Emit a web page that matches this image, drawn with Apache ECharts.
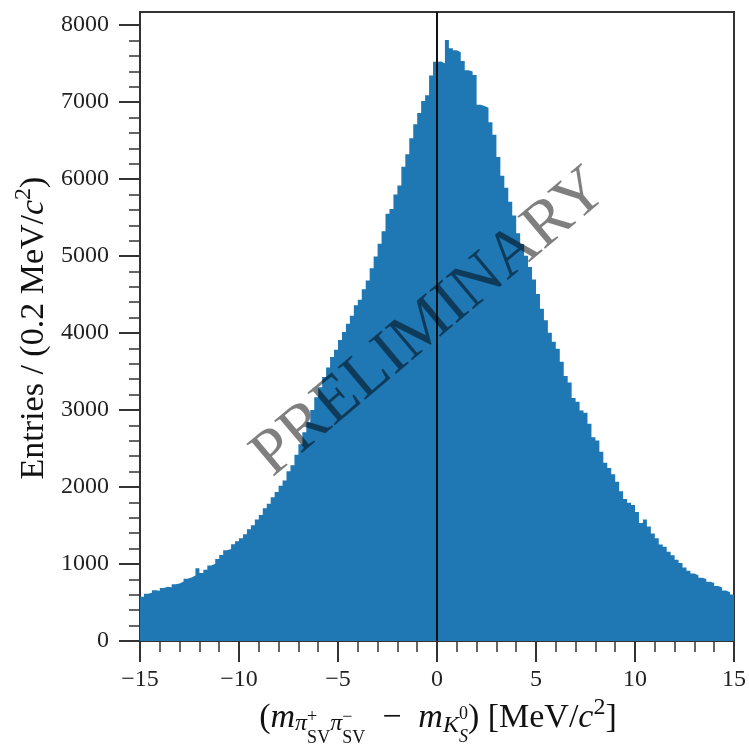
<!DOCTYPE html>
<html>
<head>
<meta charset="utf-8">
<script src="https://cdn.jsdelivr.net/npm/echarts/dist/echarts.min.js"></script>
<style>html,body{margin:0;padding:0;background:#fff}#c{width:749px;height:747px}</style>
</head>
<body>
<div id="c"></div>
<script>
// Histogram: 150 bins of 0.2 MeV/c^2 from -15 to 15
const binMin = -15;
const binWidth = 0.2;
const binCounts = [
  575, 615, 628, 660, 652,
  688, 705, 698, 737, 748,
  772, 808, 826, 851, 946,
  884, 925, 981, 1004, 1066,
  1118, 1180, 1196, 1258, 1297,
  1335, 1386, 1452, 1505, 1578,
  1636, 1724, 1783, 1868, 1935,
  2018, 2086, 2205, 2283, 2418,
  2556, 2712, 2840, 3002, 3165,
  3296, 3430, 3552, 3690, 3782,
  3910, 4012, 4121, 4225, 4362,
  4433, 4570, 4684, 4842, 4995,
  5160, 5322, 5548, 5612, 5801,
  5915, 6160, 6322, 6530, 6712,
  6858, 7015, 7090, 7345, 7525,
  7528, 7505, 7805, 7698, 7672,
  7648, 7535, 7415, 7398, 7352,
  6965, 6948, 6925, 6738, 6575,
  6285, 6042, 5887, 5705, 5526,
  5296, 5158, 5004, 4858, 4695,
  4508, 4314, 4166, 4003, 3888,
  3796, 3628, 3442, 3356, 3155,
  3108, 2994, 2966, 2822, 2646,
  2604, 2458, 2315, 2246, 2165,
  2068, 1945, 1846, 1795, 1766,
  1676, 1534, 1578, 1486, 1395,
  1336, 1255, 1224, 1158, 1114,
  1056, 1014, 955, 914, 876,
  853, 821, 804, 771, 754,
  716, 694, 655, 634, 603
];
const xTicks = [-15, -10, -5, 0, 5, 10, 15];
const yTicks = [0, 1000, 2000, 3000, 4000, 5000, 6000, 7000, 8000];
const xRange = [-15, 15];
const yRange = [0, 8170];
const refLineX = 0;
const watermarkText = 'PRELIMINARY';

const FONT = '"Liberation Serif", "Times New Roman", serif';
const S = 34, S1 = 24, S2 = 18;

function layout(pieces) {
  const ctx = document.createElement('canvas').getContext('2d');
  const meas = p => { ctx.font = (p.it ? 'italic ' : '') + p.size + 'px ' + FONT; return ctx.measureText(p.t).width; };
  let x = 0; const items = [];
  for (const p of pieces) {
    const group = Array.isArray(p) ? p : [p];
    let w = 0;
    for (const q of group) { items.push(Object.assign({}, q, {x})); w = Math.max(w, meas(q)); }
    x += w;
  }
  return {items, width: x};
}
function toGraphic(items, x0, y0) {
  return items.map(it => ({
    type: 'text', x: x0 + it.x, y: y0 + (it.dy || 0) - 0.3 * it.size, z: 50,
    style: {text: it.t, fontFamily: FONT, fontSize: it.size, fontStyle: it.it ? 'italic' : 'normal',
            fill: '#111', align: 'left', verticalAlign: 'middle'}
  }));
}

const xTitle = layout([
  {t: '(', size: S}, {t: 'm', size: S, it: true},
  {t: 'π', size: S1, it: true, dy: 3},
  [{t: '+', size: S2, dy: -5}, {t: 'SV', size: S2, dy: 16}],
  {t: 'π', size: S1, it: true, dy: 3},
  [{t: '−', size: S2, dy: -5}, {t: 'SV', size: S2, dy: 16}],
  {t: '\u2002−\u2002', size: S}, {t: 'm', size: S, it: true},
  {t: 'K', size: S1, it: true, dy: 5},
  [{t: '0', size: S2, dy: -8}, {t: 'S', size: S2, it: true, dy: 15}],
  {t: ') [MeV/', size: S}, {t: 'c', size: S, it: true},
  {t: '2', size: S1, dy: -13}, {t: ']', size: S}
]);
const yTitle = layout([
  {t: 'Entries / (0.2 MeV/', size: S}, {t: 'c', size: S, it: true},
  {t: '2', size: S1, dy: -13}, {t: ')', size: S}
]);

const gridL = 140, gridR = 13, gridT = 12, gridB = 106;
const plotCx = gridL + (749 - gridL - gridR) / 2;

const histData = binCounts.map((c, i) => [binMin + i * binWidth, c]);
histData.push([binMin + binCounts.length * binWidth, binCounts[binCounts.length - 1]]);

const chart = echarts.init(document.getElementById('c'), null, {renderer: 'canvas'});
const axisColor = '#333';
chart.setOption({
  animation: false,
  backgroundColor: '#fff',
  grid: {left: gridL, right: gridR, top: gridT, bottom: gridB, show: true, borderColor: axisColor, borderWidth: 2, containLabel: false},
  xAxis: {
    type: 'value', min: xRange[0], max: xRange[1], interval: 5,
    axisLine: {onZero: false, lineStyle: {color: axisColor, width: 2}},
    axisTick: {show: true, inside: false, length: 21, lineStyle: {color: axisColor, width: 2}, customValues: xTicks},
    minorTick: {show: true, splitNumber: 5, length: 11, lineStyle: {color: axisColor, width: 1.5}},
    axisLabel: {fontFamily: FONT, fontSize: 24, color: '#222', margin: 27, customValues: xTicks,
      formatter: v => (v < 0 ? '\u2212' + Math.abs(v) : String(v))},
    splitLine: {show: false}, minorSplitLine: {show: false}
  },
  yAxis: {
    type: 'value', min: yRange[0], max: yRange[1], interval: 1000,
    axisLine: {onZero: false, lineStyle: {color: axisColor, width: 2}},
    axisTick: {show: true, inside: false, length: 21, lineStyle: {color: axisColor, width: 2}, customValues: yTicks},
    minorTick: {show: true, splitNumber: 5, length: 11, lineStyle: {color: axisColor, width: 1.5}},
    axisLabel: {fontFamily: FONT, fontSize: 24, color: '#222', margin: 31, customValues: yTicks,
      formatter: v => String(v)},
    splitLine: {show: false}, minorSplitLine: {show: false}
  },
  series: [{
    type: 'line', data: histData, step: 'end', symbol: 'none', showSymbol: false,
    lineStyle: {width: 0, color: '#1f77b4'},
    areaStyle: {color: '#1f77b4', opacity: 1},
    itemStyle: {color: '#1f77b4'},
    clip: true, silent: true,
    markLine: {
      silent: true, symbol: 'none', label: {show: false}, animation: false,
      lineStyle: {color: '#111', width: 2, type: 'solid'},
      data: [{xAxis: refLineX}]
    }
  }],
  graphic: [
    ...toGraphic(xTitle.items, plotCx - xTitle.width / 2, 728),
    {type: 'group', x: 44, y: 328, rotation: Math.PI / 2,
     children: toGraphic(yTitle.items, -yTitle.width / 2, 0)},
    {type: 'text', x: 430, y: 323, rotation: 40 * Math.PI / 180, z: 100,
     style: {text: watermarkText, fontFamily: FONT, fontSize: 65, fill: 'rgba(0,0,0,0.5)', align: 'center', verticalAlign: 'middle'}}
  ]
});
</script>
</body>
</html>
